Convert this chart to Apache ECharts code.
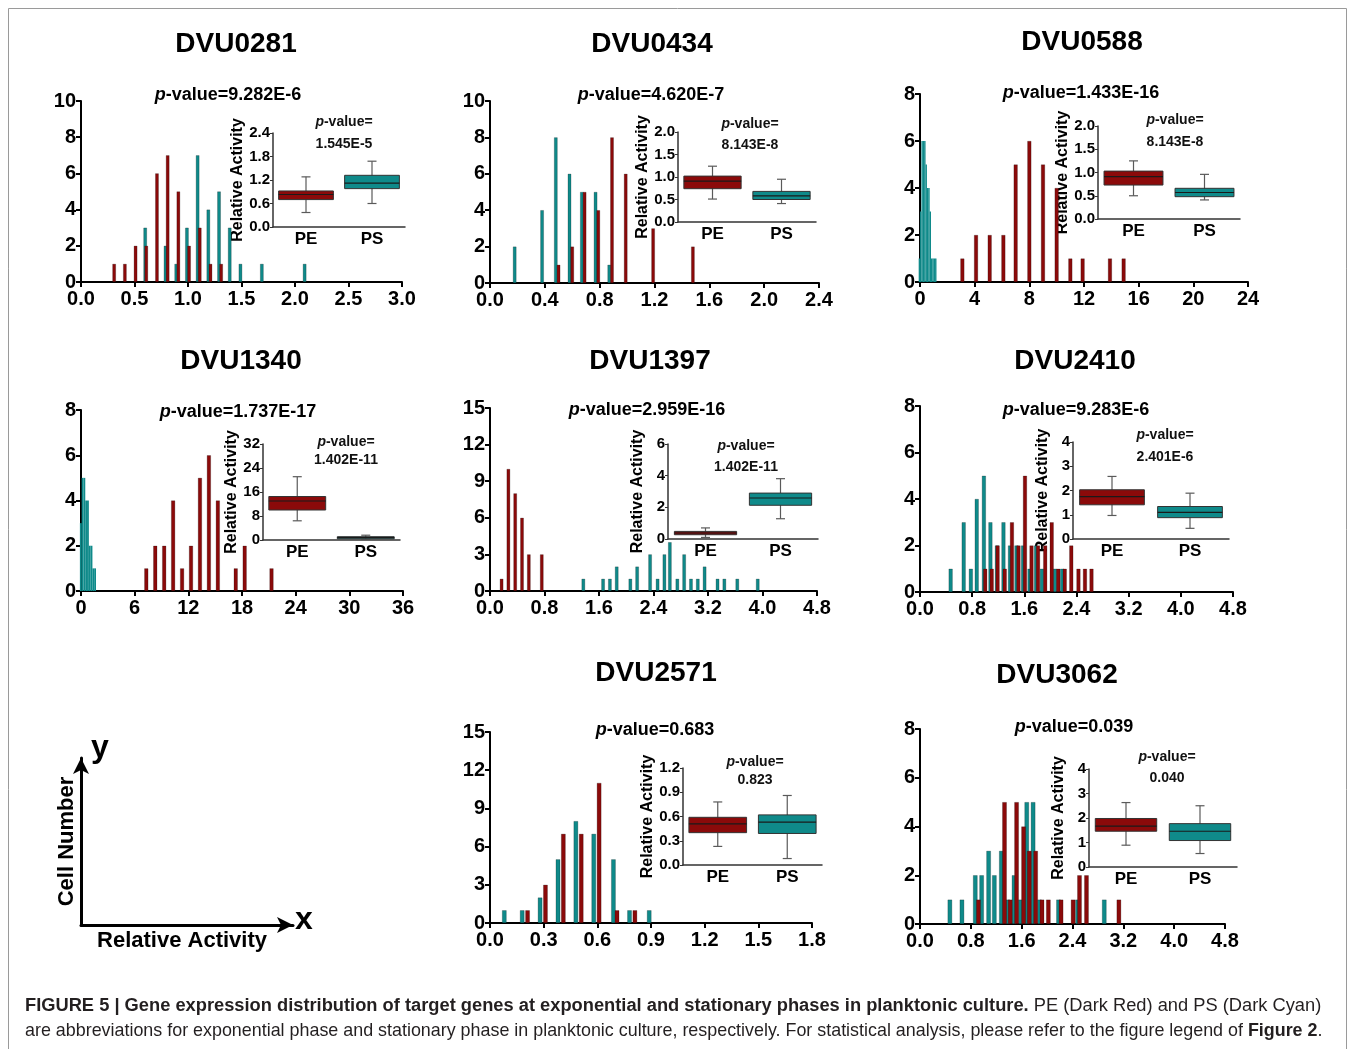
<!DOCTYPE html>
<html>
<head>
<meta charset="utf-8">
<script src="https://cdn.jsdelivr.net/npm/echarts@6/dist/echarts.min.js"></script>
<style>
  html, body { margin: 0; padding: 0; background: #fff; }
  #chart { width: 1355px; height: 1049px; }
</style>
</head>
<body>
<div id="chart"></div>
<script>
const FONT = '"Liberation Sans", Arial, sans-serif'
const PE_COLOR = '#8b0a0a'
const PS_COLOR = '#0f8a8a'

// ---- labels ----
const genes = ['DVU0281', 'DVU0434', 'DVU0588', 'DVU1340', 'DVU1397', 'DVU2410', 'DVU2571', 'DVU3062']
const pValues = ['9.282E-6', '4.620E-7', '1.433E-16', '1.737E-17', '2.959E-16', '9.283E-6', '0.683', '0.039']
const insetPValues = ['1.545E-5', '8.143E-8', '8.143E-8', '1.402E-11', '1.402E-11', '2.401E-6', '0.823', '0.040']
const groups = ['PE', 'PS']

// ---- histogram axes (ticks) ----
const xMax = [3.0, 2.4, 24, 36, 4.8, 4.8, 1.8, 4.8]
const xStep = [0.5, 0.4, 4, 6, 0.8, 0.8, 0.3, 0.8]
const xDec = [1, 1, 0, 0, 1, 1, 1, 1]
const yMax = [10, 10, 8, 8, 15, 8, 15, 8]
const yStep = [2, 2, 2, 2, 3, 2, 3, 2]

// ---- inset axes (ticks) ----
const insetMax = [2.4, 2.0, 2.0, 32, 6, 4, 1.2, 4]
const insetStep = [0.6, 0.5, 0.5, 8, 2, 1, 0.3, 1]
const insetDec = [1, 1, 1, 0, 0, 0, 1, 0]

// ---- histogram counts: [relative activity, cell number] ----
const dvu0281PE = [[0.31, 1], [0.41, 1], [0.51, 2], [0.61, 2], [0.71, 6], [0.81, 7], [0.91, 5], [1.01, 2], [1.11, 3], [1.21, 1], [1.31, 1]]
const dvu0281PS = [[0.6, 3], [0.79, 2], [0.89, 1], [0.99, 3], [1.09, 7], [1.19, 4], [1.29, 5], [1.39, 3], [1.49, 1], [1.69, 1], [2.09, 1]]
const dvu0434PE = [[0.5, 1], [0.6, 2], [0.69, 5], [0.79, 4], [0.89, 8], [0.99, 6], [1.19, 3], [1.48, 2]]
const dvu0434PS = [[0.18, 2], [0.38, 4], [0.48, 8], [0.58, 6], [0.67, 5], [0.77, 5], [0.87, 1]]
const dvu0588PE = [[3.1, 1], [4.1, 2], [5.1, 2], [6.1, 2], [7.0, 5], [8.0, 6], [9.0, 5], [10.0, 4], [11.0, 1], [11.9, 1], [13.9, 1], [14.9, 1]]
const dvu0588PS = [[0.05, 1], [0.15, 3], [0.25, 6], [0.35, 6], [0.45, 6], [0.55, 5], [0.65, 4], [0.75, 4], [0.85, 3], [0.95, 1], [1.05, 1], [1.15, 1], [1.25, 1]]
const dvu1340PE = [[7.3, 1], [8.3, 2], [9.3, 2], [10.3, 4], [11.3, 1], [12.3, 2], [13.3, 5], [14.3, 6], [15.3, 4], [17.3, 1], [18.3, 2], [21.3, 1]]
const dvu1340PS = [[0.1, 3], [0.3, 5], [0.5, 5], [0.7, 4], [0.9, 4], [1.1, 2], [1.3, 2], [1.5, 1], [1.7, 1]]
const dvu1397PE = [[0.17, 1], [0.27, 10], [0.37, 8], [0.47, 6], [0.57, 3], [0.76, 3]]
const dvu1397PS = [[1.37, 1], [1.66, 1], [1.76, 1], [1.86, 2], [2.06, 1], [2.16, 2], [2.35, 3], [2.46, 1], [2.56, 3], [2.64, 4], [2.75, 1], [2.85, 3], [2.95, 1], [3.05, 1], [3.15, 2], [3.34, 1], [3.44, 1], [3.63, 1], [3.93, 1]]
const dvu2410PE = [[1.0, 1], [1.1, 1], [1.19, 2], [1.3, 1], [1.41, 3], [1.51, 2], [1.61, 5], [1.71, 2], [1.81, 2], [1.92, 2], [2.02, 3], [2.12, 1], [2.22, 1], [2.32, 2], [2.43, 1], [2.53, 1], [2.63, 1]]
const dvu2410PS = [[0.47, 1], [0.67, 3], [0.78, 1], [0.87, 4], [0.98, 5], [1.08, 3], [1.18, 2], [1.28, 3], [1.38, 2], [1.48, 2], [1.58, 2], [1.68, 1], [1.78, 2], [1.87, 1], [2.07, 1], [2.18, 1]]
const dvu2571PE = [[0.21, 1], [0.31, 3], [0.41, 7], [0.51, 7], [0.61, 11], [0.71, 1], [0.81, 1]]
const dvu2571PS = [[0.08, 1], [0.18, 1], [0.28, 2], [0.38, 5], [0.48, 8], [0.58, 7], [0.69, 5], [0.78, 1], [0.89, 1]]
const dvu3062PE = [[0.92, 1], [1.33, 5], [1.42, 1], [1.52, 5], [1.63, 4], [1.72, 3], [1.82, 3], [1.92, 1], [2.02, 1], [2.22, 1], [2.41, 1], [2.51, 2], [2.62, 2], [3.13, 1]]
const dvu3062PS = [[0.47, 1], [0.66, 1], [0.87, 2], [0.97, 2], [1.08, 3], [1.17, 2], [1.28, 3], [1.38, 1], [1.48, 2], [1.58, 1], [1.68, 5], [1.78, 5], [1.88, 1], [2.18, 1], [2.48, 1], [2.9, 1]]

// ---- inset boxes: [min, Q1, median, Q3, max] for PE, PS ----
const dvu0281Box = [[0.37, 0.70, 0.83, 0.92, 1.28], [0.60, 0.98, 1.12, 1.32, 1.68]]
const dvu0434Box = [[0.51, 0.74, 0.91, 1.02, 1.24], [0.41, 0.50, 0.58, 0.68, 0.95]]
const dvu0588Box = [[0.50, 0.73, 0.91, 1.03, 1.25], [0.41, 0.48, 0.57, 0.66, 0.96]]
const dvu1340Box = [[6.4, 10.0, 13.0, 14.5, 21.1], [0.2, 0.4, 0.8, 1.1, 1.6]]
const dvu1397Box = [[0.1, 0.27, 0.38, 0.48, 0.7], [1.28, 2.13, 2.59, 2.9, 3.81]]
const dvu2410Box = [[0.97, 1.41, 1.75, 2.03, 2.58], [0.44, 0.88, 1.10, 1.34, 1.89]]
const dvu2571Box = [[0.23, 0.40, 0.51, 0.59, 0.78], [0.08, 0.39, 0.53, 0.62, 0.86]]
const dvu3062Box = [[0.89, 1.46, 1.67, 1.98, 2.63], [0.55, 1.08, 1.46, 1.77, 2.50]]

const peData = [dvu0281PE, dvu0434PE, dvu0588PE, dvu1340PE, dvu1397PE, dvu2410PE, dvu2571PE, dvu3062PE]
const psData = [dvu0281PS, dvu0434PS, dvu0588PS, dvu1340PS, dvu1397PS, dvu2410PS, dvu2571PS, dvu3062PS]
const boxes = [dvu0281Box, dvu0434Box, dvu0588Box, dvu1340Box, dvu1397Box, dvu2410Box, dvu2571Box, dvu3062Box]

// ---- layout (px): [left, top, right, bottom] ----
const mainRect = [
    [81, 101, 402, 282], [490, 101, 819, 283], [920, 94, 1248, 282],
    [81, 410, 403, 591], [490, 408, 817, 591], [920, 406, 1233, 592],
    [490, 732, 812, 923], [920, 729, 1225, 924],
]
const insetRect = [
    [273, 133, 405, 227], [678, 132, 816, 222], [1098, 126, 1240, 219],
    [263, 444, 400, 540], [668, 444, 818, 539], [1073, 442, 1229, 539],
    [683, 768, 822, 865], [1089, 769, 1237, 867],
]
const titlePos = [[236, 44], [652, 44], [1082, 42], [241, 361], [650, 361], [1075, 361], [656, 673], [1057, 675]]
const pPos = [[228, 95], [651, 95], [1081, 93], [238, 412], [647, 410], [1076, 410], [655, 730], [1074, 727]]
const ipPos = [[344, 122, 144], [750, 124, 145], [1175, 120, 142], [346, 442, 460], [746, 446, 467], [1165, 435, 457], [755, 762, 780], [1167, 757, 778]]
const peWidth = [3.5, 3.5, 4, 4, 3.5, 4, 4.5, 4.5]
const psWidth = [3.5, 3.5, 1.4, 1.8, 3.5, 4, 4.5, 4.5]

const boxColors = [PE_COLOR, PS_COLOR]

function renderBox(params, api) {
    const idx = api.value(0)
    const bw = api.size([1, 0])[0] * 0.83
    const cap = 9
    const lo = api.coord([idx, api.value(1)])
    const q1 = api.coord([idx, api.value(2)])
    const med = api.coord([idx, api.value(3)])
    const q3 = api.coord([idx, api.value(4)])
    const hi = api.coord([idx, api.value(5)])
    const cx = lo[0]
    const whisker = { stroke: '#5a5a5a', lineWidth: 1.2 }
    return {
        type: 'group',
        children: [
            { type: 'line', shape: { x1: cx, y1: lo[1], x2: cx, y2: hi[1] }, style: whisker },
            { type: 'line', shape: { x1: cx - cap / 2, y1: hi[1], x2: cx + cap / 2, y2: hi[1] }, style: whisker },
            { type: 'line', shape: { x1: cx - cap / 2, y1: lo[1], x2: cx + cap / 2, y2: lo[1] }, style: whisker },
            {
                type: 'rect',
                shape: { x: cx - bw / 2, y: q3[1], width: bw, height: Math.max(q1[1] - q3[1], 1.5) },
                style: { fill: boxColors[params.dataIndex], stroke: '#333', lineWidth: 1 },
            },
            { type: 'line', shape: { x1: cx - bw / 2, y1: med[1], x2: cx + bw / 2, y2: med[1] }, style: { stroke: '#1a1a1a', lineWidth: 1.2 } },
        ],
    }
}

const grid = []
const xAxis = []
const yAxis = []
const series = []
const graphic = []

const boldText = (size) => ({ fontSize: size, fontWeight: 'bold', color: '#000', fontFamily: FONT })

genes.forEach((gene, i) => {
    // main histogram
    const m = mainRect[i]
    grid.push({ left: m[0], top: m[1], width: m[2] - m[0], height: m[3] - m[1] })
    const mi = grid.length - 1
    xAxis.push({
        gridIndex: mi,
        type: 'value',
        min: 0,
        max: xMax[i],
        interval: xStep[i],
        axisLine: { show: true, onZero: false, lineStyle: { color: '#000', width: 2 } },
        axisTick: { show: true, length: 5, lineStyle: { color: '#000', width: 2 } },
        axisLabel: { ...boldText(20), margin: 7, formatter: (v) => v.toFixed(xDec[i]) },
        splitLine: { show: false },
    })
    yAxis.push({
        gridIndex: mi,
        type: 'value',
        min: 0,
        max: yMax[i],
        interval: yStep[i],
        axisLine: { show: true, onZero: false, lineStyle: { color: '#000', width: 2 } },
        axisTick: { show: true, length: 5, lineStyle: { color: '#000', width: 2 } },
        axisLabel: { ...boldText(20), margin: 5 },
        splitLine: { show: false },
    })
    series.push({
        type: 'bar',
        name: 'PS',
        xAxisIndex: mi,
        yAxisIndex: mi,
        data: psData[i],
        barWidth: psWidth[i],
        barGap: '-100%',
        itemStyle: { color: PS_COLOR, borderColor: 'rgba(0,0,0,0.45)', borderWidth: psWidth[i] < 3 ? 0 : 0.5 },
    })
    series.push({
        type: 'bar',
        name: 'PE',
        xAxisIndex: mi,
        yAxisIndex: mi,
        data: peData[i],
        barWidth: peWidth[i],
        barGap: '-100%',
        itemStyle: { color: PE_COLOR, borderColor: 'rgba(0,0,0,0.45)', borderWidth: 0.5 },
    })

    // inset box plot
    const r = insetRect[i]
    grid.push({ left: r[0], top: r[1], width: r[2] - r[0], height: r[3] - r[1] })
    const ii = grid.length - 1
    xAxis.push({
        gridIndex: ii,
        type: 'category',
        data: groups,
        axisLine: { show: true, lineStyle: { color: '#333', width: 1.5 } },
        axisTick: { show: false },
        axisLabel: { ...boldText(17), margin: 4 },
    })
    yAxis.push({
        gridIndex: ii,
        type: 'value',
        min: 0,
        max: insetMax[i],
        interval: insetStep[i],
        name: 'Relative Activity',
        nameLocation: 'middle',
        nameGap: 22,
        nameTextStyle: boldText(16),
        axisLine: { show: true, onZero: false, lineStyle: { color: '#333', width: 1.5 } },
        axisTick: { show: true, length: 3, lineStyle: { color: '#333' } },
        axisLabel: { ...boldText(15), margin: 3, formatter: (v) => v.toFixed(insetDec[i]) },
        splitLine: { show: false },
    })
    series.push({
        type: 'custom',
        xAxisIndex: ii,
        yAxisIndex: ii,
        renderItem: renderBox,
        encode: { x: 0, y: [1, 2, 3, 4, 5] },
        data: boxes[i].map((b, k) => [k].concat(b)),
        z: 5,
    })

    // texts
    graphic.push({
        type: 'text', x: titlePos[i][0], y: titlePos[i][1],
        style: { text: gene, fontSize: 28, fontWeight: 'bold', fontFamily: FONT, fill: '#000', align: 'center', verticalAlign: 'middle' },
    })
    graphic.push({
        type: 'text', x: pPos[i][0], y: pPos[i][1],
        style: {
            text: '{i|p}-value=' + pValues[i], fontSize: 18, fontWeight: 'bold', fontFamily: FONT, fill: '#000',
            align: 'center', verticalAlign: 'middle',
            rich: { i: { fontStyle: 'italic', fontSize: 18, fontWeight: 'bold', fontFamily: FONT, fill: '#000' } },
        },
    })
    graphic.push({
        type: 'text', x: ipPos[i][0], y: ipPos[i][1],
        style: {
            text: '{i|p}-value=', fontSize: 14, fontWeight: 'bold', fontFamily: FONT, fill: '#111',
            align: 'center', verticalAlign: 'middle',
            rich: { i: { fontStyle: 'italic', fontSize: 14, fontWeight: 'bold', fontFamily: FONT, fill: '#111' } },
        },
    })
    graphic.push({
        type: 'text', x: ipPos[i][0], y: ipPos[i][2],
        style: { text: insetPValues[i], fontSize: 14, fontWeight: 'bold', fontFamily: FONT, fill: '#111', align: 'center', verticalAlign: 'middle' },
    })
})

// schematic axes panel (x: relative activity, y: cell number)
grid.push({ left: 81, top: 758, width: 212, height: 167 })
const gi = grid.length - 1
xAxis.push({
    gridIndex: gi, type: 'value', min: 0, max: 1,
    axisLine: { show: true, onZero: false, symbol: ['none', 'arrow'], symbolSize: [12, 16], lineStyle: { color: '#000', width: 3 } },
    axisTick: { show: false }, axisLabel: { show: false }, splitLine: { show: false },
    name: 'Relative Activity', nameLocation: 'middle', nameGap: 5, nameTextStyle: { ...boldText(22), padding: [0, 10, 0, 0] },
})
yAxis.push({
    gridIndex: gi, type: 'value', min: 0, max: 1,
    axisLine: { show: true, onZero: false, symbol: ['none', 'arrow'], symbolSize: [12, 16], lineStyle: { color: '#000', width: 3 } },
    axisTick: { show: false }, axisLabel: { show: false }, splitLine: { show: false },
    name: 'Cell Number', nameLocation: 'middle', nameGap: 3, nameTextStyle: boldText(22),
})
graphic.push({ type: 'text', x: 100, y: 748, style: { text: 'y', fontSize: 32, fontWeight: 'bold', fontFamily: FONT, fill: '#000', align: 'center', verticalAlign: 'middle' } })
graphic.push({ type: 'text', x: 304, y: 920, style: { text: 'x', fontSize: 32, fontWeight: 'bold', fontFamily: FONT, fill: '#000', align: 'center', verticalAlign: 'middle' } })

// frame + caption
graphic.push({ type: 'rect', shape: { x: 8.5, y: 8.5, width: 1338, height: 1100 }, style: { fill: 'none', stroke: '#9a9a9a', lineWidth: 1 } })
const captionRich = (size) => ({
    b: { fontWeight: 'bold', fontSize: size, fontFamily: FONT, fill: '#231f20' },
    n: { fontWeight: 'normal', fontSize: size, fontFamily: FONT, fill: '#231f20' },
})
graphic.push({
    type: 'text', x: 25, y: 1006,
    style: {
        text: '{b|FIGURE 5 | Gene expression distribution of target genes at exponential and stationary phases in planktonic culture.}{n| PE (Dark Red) and PS (Dark Cyan)}',
        rich: captionRich(18.3), align: 'left', verticalAlign: 'middle',
    },
})
graphic.push({
    type: 'text', x: 25, y: 1031,
    style: {
        text: '{n|are abbreviations for exponential phase and stationary phase in planktonic culture, respectively. For statistical analysis, please refer to the figure legend of }{b|Figure 2}{n|.}',
        rich: captionRich(17.9), align: 'left', verticalAlign: 'middle',
    },
})

const chart = echarts.init(document.getElementById('chart'), null, { renderer: 'canvas' })
chart.setOption({
    animation: false,
    backgroundColor: '#fff',
    textStyle: { fontFamily: FONT },
    grid,
    xAxis,
    yAxis,
    series,
    graphic,
})
</script>
</body>
</html>
